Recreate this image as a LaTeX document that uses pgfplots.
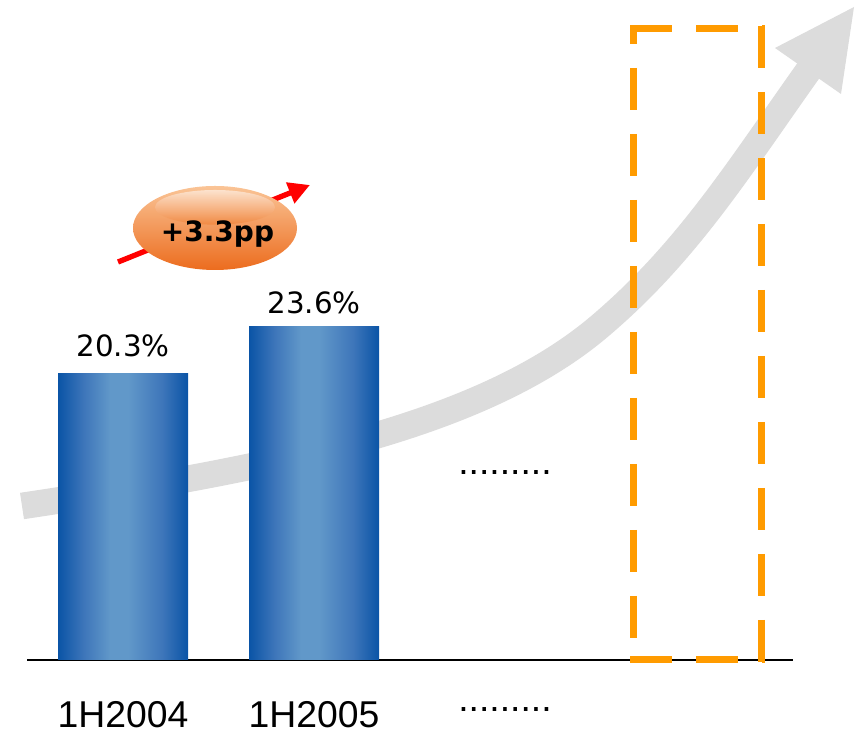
\documentclass[border=0pt]{standalone}
\usepackage{pgfplots}
\pgfplotsset{compat=1.18}
\usepackage{fontspec}
\setmainfont{Liberation Sans}
\newfontfamily\dejavu{DejaVu Sans}
\usetikzlibrary{arrows.meta}
\definecolor{bdark}{RGB}{10,84,166}
\definecolor{bmid}{RGB}{62,118,186}
\definecolor{blight}{RGB}{97,152,201}
\definecolor{arrowgray}{RGB}{220,220,220}
\definecolor{boxorange}{RGB}{255,155,0}
\definecolor{elltop}{RGB}{250,196,150}
\definecolor{ellmid}{RGB}{240,124,44}
\definecolor{ellbot}{RGB}{236,108,30}
\pgfdeclarehorizontalshading{barshade}{100bp}{color(0bp)=(bdark); color(25bp)=(bdark); color(35bp)=(bmid); color(45bp)=(blight); color(52bp)=(blight); color(65bp)=(bmid); color(75bp)=(bdark); color(100bp)=(bdark)}
\begin{document}
\begin{tikzpicture}
\useasboundingbox (0,0) rectangle (642pt,550.5pt);
% grey trend arrow (behind bars), pixel coordinates
\begin{scope}[x=0.75pt,y=-0.75pt,shift={(0pt,550.5pt)}]
  \draw[arrowgray, line width=20pt] (22,506) .. controls (272,468.5) and (480,428) .. (600,326)
        .. controls (690,249.5) and (740.6,165.3) .. (816,60);
  \fill[arrowgray] (775,48) -- (854,7) -- (841,94) -- cycle;
\end{scope}
\begin{axis}[
  at={(20.25pt,55.5pt)}, anchor=south west,
  scale only axis, width=574.5pt, height=495pt,
  xmin=-0.503, xmax=3.508, ymin=0, ymax=46.71,
  axis y line=none, axis x line*=bottom,
  x axis line style={line width=1.2pt, black, -},
  xtick={0,1,2}, xticklabels={1H2004,1H2005,\raisebox{12pt}{.........}},
  major tick length=0pt,
  xticklabel style={anchor=base, inner sep=0pt, yshift=-51pt, font=\fontsize{28}{28}\selectfont},
  clip=false,
  /pgf/number format/assume math mode=true,
]
\addplot[ybar, bar width=97.5pt, bar shift=0pt, draw=none, shading=barshade,
  nodes near coords={\pgfmathprintnumber[fixed,fixed zerofill,precision=1]{\pgfplotspointmeta}\%},
  nodes near coords style={anchor=south, inner sep=0pt, yshift=12pt, text=black, font=\dejavu\fontsize{22}{22}\selectfont}]
  coordinates {(0,20.3)};
\addplot[ybar, bar width=97.5pt, bar shift=0pt, draw=none, shading=barshade,
  nodes near coords={\pgfmathprintnumber[fixed,fixed zerofill,precision=1]{\pgfplotspointmeta}\%},
  nodes near coords style={anchor=south, inner sep=0pt, yshift=9pt, text=black, font=\dejavu\fontsize{22}{22}\selectfont}]
  coordinates {(1,23.6)};
\node[anchor=base, inner sep=0pt, font=\fontsize{28}{28}\selectfont] at (axis cs:2,13.16) {.........};
\end{axis}
% dashed box, red arrow
\begin{scope}[x=0.75pt,y=-0.75pt,shift={(0pt,550.5pt)}]
  \draw[boxorange, line width=5.25pt, dash pattern=on 31.5pt off 18pt, dash phase=18pt] (633.5,26) -- (633.5,662);
  \draw[boxorange, line width=5.25pt, dash pattern=on 31.5pt off 18pt] (761.5,26) -- (761.5,663);
  \draw[boxorange, line width=5.25pt, dash pattern=on 31.5pt off 18pt] (630,29) -- (765,29);
  \draw[boxorange, line width=5.25pt, dash pattern=on 31.5pt off 18pt] (630,660) -- (765,660);
  \draw[red, line width=4pt, -{Triangle[length=16pt,width=16pt]}] (118,262) -- (310,185);
\end{scope}
% orange ellipse badge
\shade[top color=elltop, middle color=ellmid, bottom color=ellbot] (161.25pt,379.5pt) ellipse [x radius=61.5pt, y radius=31.5pt];
\shade[top color=white, bottom color=ellmid, opacity=0.55] (161.25pt,395pt) ellipse [x radius=45pt, y radius=13pt];
\node[anchor=base, inner sep=0pt, font=\dejavu\bfseries\fontsize{21}{21}\selectfont] at (163.1pt,369pt) {+3.3pp};
\end{tikzpicture}
\end{document}
